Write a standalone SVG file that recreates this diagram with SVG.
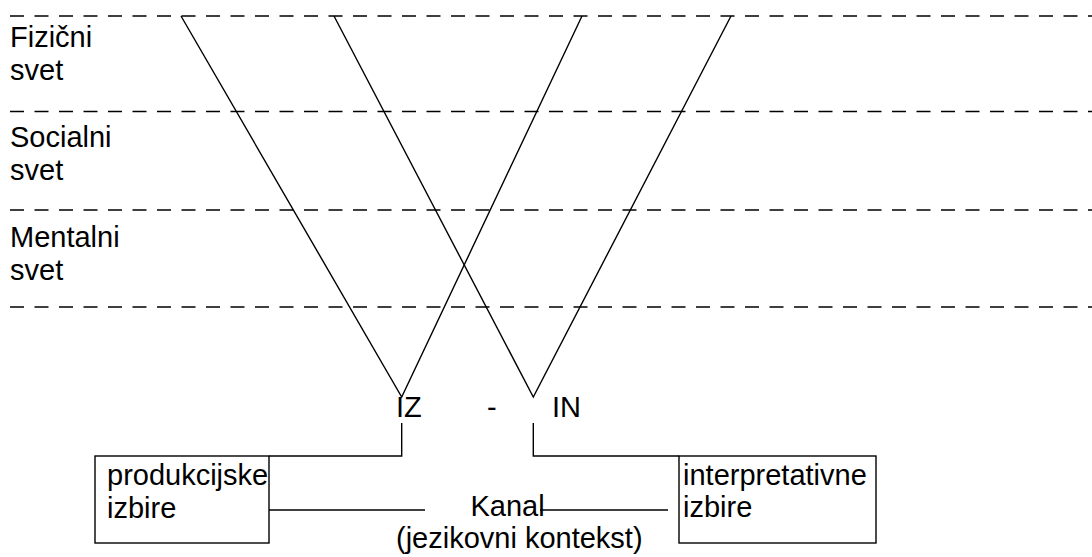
<svg xmlns="http://www.w3.org/2000/svg" width="1092" height="557" viewBox="0 0 1092 557">
<style>
text{font-family:"Liberation Sans",Arial,sans-serif;font-size:29px;fill:#000}
.dash{stroke:#000;stroke-width:1.6;stroke-dasharray:14 10.5;fill:none}
.ln{stroke:#000;stroke-width:1.4;fill:none}
.box{stroke:#000;stroke-width:1.4;fill:#fff}
</style>
<rect width="1092" height="557" fill="#fff"/>
<g id="layers">
<line class="dash" x1="10" y1="16" x2="1092" y2="16"/>
<line class="dash" x1="10" y1="111.5" x2="1092" y2="111.5"/>
<line class="dash" x1="10" y1="210" x2="1092" y2="210"/>
<line class="dash" x1="10" y1="307" x2="1092" y2="307"/>
</g>
<g id="fizicni"><text x="10" y="47">Fizični</text><text x="10" y="80">svet</text></g>
<g id="socialni"><text x="10" y="147">Socialni</text><text x="10" y="180">svet</text></g>
<g id="mentalni"><text x="10" y="247">Mentalni</text><text x="10" y="280">svet</text></g>
<g id="connectors">
<polyline class="ln" points="181,16 401.7,397 582,16"/>
<polyline class="ln" points="334,16 533.3,397 731,16"/>
<polyline class="ln" points="401.7,423 401.7,456 269,456"/>
<polyline class="ln" points="533.3,423 533.3,456 679,456"/>
<line class="ln" x1="269" y1="510" x2="425" y2="510"/>
<line class="ln" x1="540" y1="510" x2="668" y2="510"/>
</g>
<g id="iz"><text x="396" y="417">IZ</text></g>
<g id="dash-label"><text x="487" y="417">-</text></g>
<g id="in"><text x="552" y="417">IN</text></g>
<g id="produkcijske">
<rect class="box" x="95" y="456" width="174" height="87"/>
<text x="107" y="485">produkcijske</text>
<text x="107" y="518">izbire</text>
</g>
<g id="interpretativne">
<rect class="box" x="679" y="456" width="197" height="87"/>
<text x="683" y="485">interpretativne</text>
<text x="683" y="517">izbire</text>
</g>
<g id="kanal">
<text x="470.5" y="516">Kanal</text>
<text x="396" y="548">(jezikovni kontekst)</text>
</g>
</svg>
